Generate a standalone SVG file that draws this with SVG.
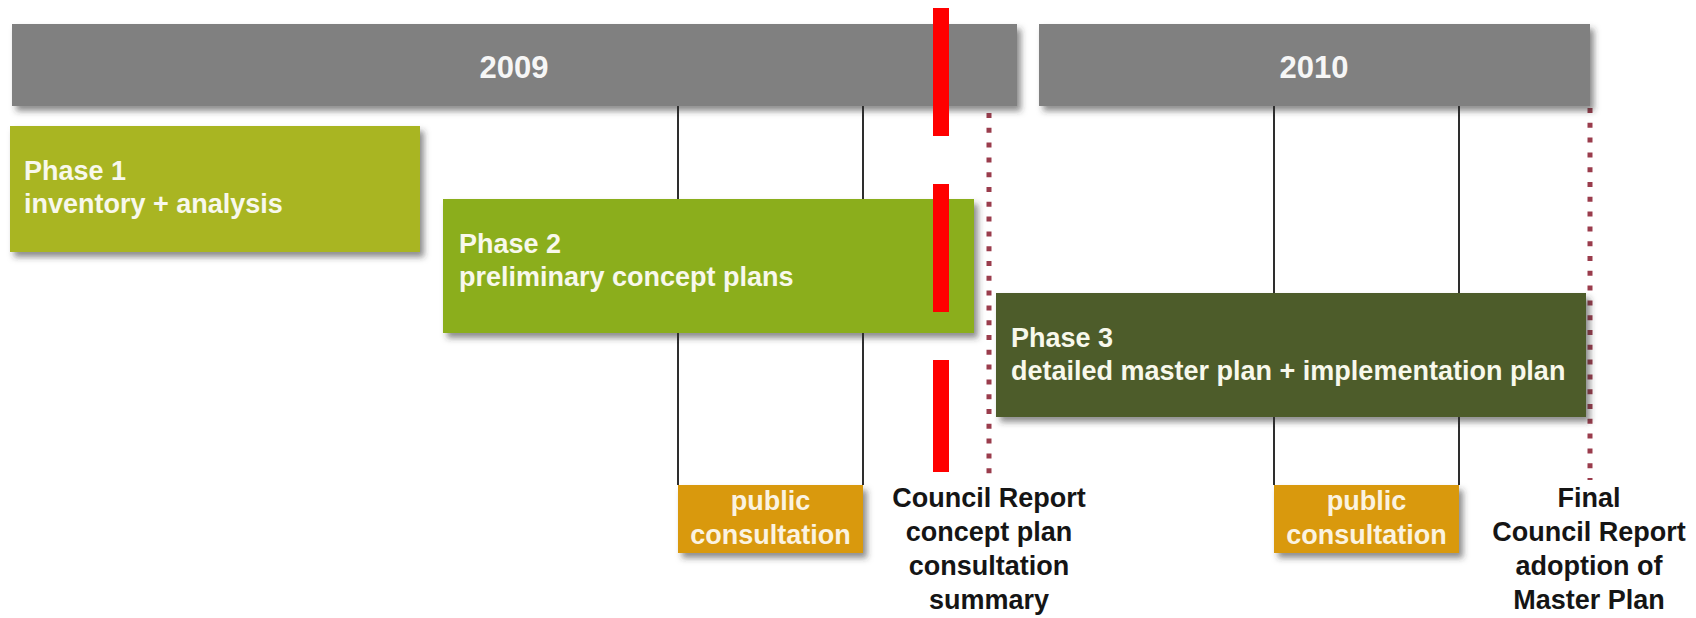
<svg xmlns="http://www.w3.org/2000/svg" width="1696" height="618" viewBox="0 0 1696 618">
  <defs>
    <filter id="shadow" x="-5%" y="-20%" width="115%" height="150%">
      <feDropShadow dx="4" dy="5" stdDeviation="3" flood-color="#333" flood-opacity="0.55"/>
    </filter>
  </defs>
  <style>
    text { font-family: "Liberation Sans", Arial, Helvetica, sans-serif; font-weight: bold; }
    .year { fill: #808080; filter: url(#shadow); }
    .year-label { fill: #f6f6f6; font-size: 31px; text-anchor: middle; }
    .phase-label { fill: #f8f8ec; font-size: 27px; }
    .consult { fill: #d9990f; filter: url(#shadow); }
    .consult-label { fill: #fbf3e0; font-size: 27px; text-anchor: middle; }
    .report-label { fill: #151515; font-size: 27px; text-anchor: middle; }
    .tick { stroke: #2e2e2e; stroke-width: 2; fill: none; }
    .milestone { stroke: #9a3c4c; stroke-width: 5; stroke-dasharray: 5 9.8; fill: none; }
    .marker { fill: #ff0000; }
  </style>

  <!-- consultation ticks and milestone lines -->
  <g id="connectors">
    <line class="tick" x1="678" y1="106" x2="678" y2="485"/>
    <line class="tick" x1="863" y1="106" x2="863" y2="485"/>
    <line class="tick" x1="1274" y1="106" x2="1274" y2="485"/>
    <line class="tick" x1="1459" y1="106" x2="1459" y2="485"/>
    <line class="milestone" x1="989" y1="113" x2="989" y2="475"/>
    <line class="milestone" x1="1590" y1="108" x2="1590" y2="480"/>
  </g>

  <!-- year bands -->
  <g id="year-2009">
    <rect class="year" x="12" y="24" width="1005" height="82"/>
    <text class="year-label" x="514" y="78">2009</text>
  </g>
  <g id="year-2010">
    <rect class="year" x="1039" y="24" width="551" height="82"/>
    <text class="year-label" x="1314" y="78">2010</text>
  </g>

  <!-- project phases -->
  <g id="phase-1">
    <rect x="10" y="126" width="410" height="126" fill="#a9b524" filter="url(#shadow)"/>
    <text class="phase-label" x="24" y="180">Phase 1</text>
    <text class="phase-label" x="24" y="213">inventory + analysis</text>
  </g>
  <g id="phase-2">
    <rect x="443" y="199" width="531" height="134" fill="#8bae1e" filter="url(#shadow)"/>
    <text class="phase-label" x="459" y="253">Phase 2</text>
    <text class="phase-label" x="459" y="286">preliminary concept plans</text>
  </g>
  <g id="phase-3">
    <rect x="996" y="293" width="590" height="124" fill="#4d5c29" filter="url(#shadow)"/>
    <text class="phase-label" x="1011" y="347">Phase 3</text>
    <text class="phase-label" x="1011" y="380">detailed master plan + implementation plan</text>
  </g>

  <!-- public consultation periods -->
  <g id="consult-1">
    <rect class="consult" x="678" y="485" width="185" height="68"/>
    <text class="consult-label" x="770.5" y="510">public</text>
    <text class="consult-label" x="770.5" y="544">consultation</text>
  </g>
  <g id="consult-2">
    <rect class="consult" x="1274" y="485" width="185" height="68"/>
    <text class="consult-label" x="1366.5" y="510">public</text>
    <text class="consult-label" x="1366.5" y="544">consultation</text>
  </g>

  <!-- council reports -->
  <g id="report-1">
    <text class="report-label" x="989" y="507">Council Report</text>
    <text class="report-label" x="989" y="541">concept plan</text>
    <text class="report-label" x="989" y="575">consultation</text>
    <text class="report-label" x="989" y="609">summary</text>
  </g>
  <g id="report-2">
    <text class="report-label" x="1589" y="507">Final</text>
    <text class="report-label" x="1589" y="541">Council Report</text>
    <text class="report-label" x="1589" y="575">adoption of</text>
    <text class="report-label" x="1589" y="609">Master Plan</text>
  </g>

  <!-- red dashed marker -->
  <g id="marker">
    <rect class="marker" x="933" y="8" width="16" height="128"/>
    <rect class="marker" x="933" y="184" width="16" height="128"/>
    <rect class="marker" x="933" y="360" width="16" height="112"/>
  </g>
</svg>
